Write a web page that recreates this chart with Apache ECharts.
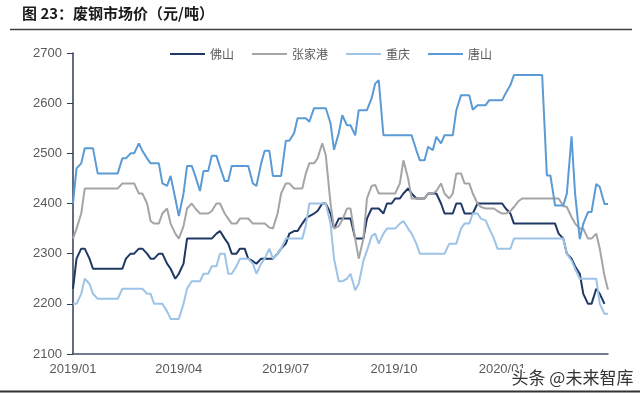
<!DOCTYPE html>
<html><head><meta charset="utf-8">
<script src="https://cdn.jsdelivr.net/npm/echarts@6/dist/echarts.min.js"></script>
<style>html,body{margin:0;padding:0;background:#fff}#c{width:640px;height:393px}</style>
</head><body><div id="c"></div>
<script>
// ---- data ----
const seriesNames = ['佛山', '张家港', '重庆', '唐山'];
const startDate = [2019, 1, 1];
const endDate = [2020, 3, 31];
const tickLabels = ['2019/01', '2019/04', '2019/07', '2019/10', '2020/01'];
const yTicks = [2100, 2200, 2300, 2400, 2500, 2600, 2700];

const foshan = [
 2230,2290,2310,2310,2290,2270,2270,2270,2270,2270,
 2270,2270,2270,2290,2300,2300,2310,2310,2300,2290,
 2290,2300,2300,2280,2270,2250,2260,2280,2330,2330,
 2330,2330,2330,2330,2330,2340,2345,2330,2320,2300,
 2300,2310,2310,2290,2285,2280,2290,2290,2290,2290,
 2300,2310,2320,2340,2345,2345,2360,2370,2375,2380,
 2385,2400,2400,2380,2350,2370,2370,2370,2370,2330,
 2330,2330,2370,2390,2390,2390,2380,2400,2400,2410,
 2410,2420,2430,2420,2410,2410,2410,2420,2420,2420,
 2400,2380,2380,2380,2400,2400,2380,2380,2380,2400,
 2400,2400,2400,2400,2400,2400,2390,2380,2360,2360,
 2360,2360,2360,2360,2360,2360,2360,2360,2360,2340,
 2330,2300,2290,2275,2260,2220,2200,2200,2230,2220,
 2200,null];
const zhangjiagang = [
 2330,2350,2380,2430,2430,2430,2430,2430,2430,2430,
 2430,2430,2440,2440,2440,2440,2420,2420,2400,2365,
 2360,2360,2380,2390,2360,2340,2330,2355,2390,2400,
 2390,2380,2380,2380,2385,2400,2400,2380,2370,2360,
 2360,2370,2370,2370,2360,2360,2360,2360,2352,2350,
 2380,2420,2440,2440,2430,2430,2430,2460,2480,2480,
 2490,2520,2496,2400,2350,2355,2367,2390,2390,2330,
 2290,2330,2410,2435,2437,2420,2420,2420,2420,2420,
 2440,2486,2450,2410,2410,2410,2410,2420,2420,2425,
 2440,2420,2410,2420,2460,2460,2440,2440,2420,2400,
 2393,2390,2390,2390,2385,2380,2380,2385,2393,2405,
 2410,2410,2410,2410,2410,2410,2410,2410,2410,2410,
 2395,2393,2373,2360,2350,2350,2330,2330,2340,2310,
 2256,2228];
const chongqing = [
 2200,2200,2220,2250,2240,2220,2210,2210,2210,2210,
 2210,2210,2230,2230,2230,2230,2230,2230,2220,2220,
 2200,2200,2200,2185,2170,2170,2170,2200,2230,2245,
 2245,2245,2260,2260,2275,2275,2300,2300,2260,2260,
 2275,2290,2290,2290,2280,2260,2280,2290,2310,2290,
 2300,2310,2330,2330,2330,2330,2330,2356,2400,2400,
 2400,2400,2400,2360,2290,2245,2245,2250,2260,2227,
 2240,2286,2306,2335,2340,2320,2340,2350,2350,2350,
 2360,2365,2350,2340,2320,2300,2300,2300,2300,2300,
 2300,2300,2320,2320,2320,2350,2360,2360,2380,2380,
 2370,2366,2350,2330,2310,2310,2310,2310,2330,2330,
 2330,2330,2330,2330,2330,2330,2330,2330,2330,2330,
 2330,2300,2286,2270,2250,2250,2250,2250,2250,2200,
 2180,2180];
const tangshan = [
 2400,2470,2480,2510,2510,2510,2460,2460,2460,2460,
 2460,2460,2490,2490,2500,2500,2520,2505,2490,2480,
 2480,2480,2440,2435,2455,2410,2375,2420,2475,2475,
 2455,2425,2465,2465,2495,2495,2473,2445,2445,2475,
 2475,2475,2475,2475,2440,2435,2480,2505,2505,2455,
 2455,2455,2525,2525,2540,2570,2570,2570,2563,2590,
 2590,2590,2590,2560,2507,2540,2576,2556,2556,2536,
 2586,2586,2586,2610,2639,2646,2536,2536,2536,2536,
 2536,2536,2536,2536,2506,2486,2486,2513,2506,2533,
 2520,2536,2536,2536,2586,2616,2616,2616,2587,2596,
 2596,2596,2606,2606,2606,2606,2620,2636,2656,2656,
 2656,2656,2656,2656,2656,2656,2456,2456,2396,2396,
 2396,2420,2534,2420,2329,2360,2383,2383,2439,2433,
 2399,2399];

const colors = ['#1f3864', '#a5a5a5', '#9dc3e6', '#5b9bd5'];

// ---- build dates (sampling points spread evenly over the period) ----
const t0 = new Date(startDate[0], startDate[1] - 1, startDate[2]).getTime();
const t1 = new Date(endDate[0], endDate[1] - 1, endDate[2]).getTime();
const DAY = 86400000;
const nPts = tangshan.length;
const totalDays = Math.round((t1 - t0) / DAY);
const dates = [];
for (let i = 0; i < nPts; i++) dates.push(t0 + Math.round(i * totalDays / (nPts - 1)) * DAY);
const tickValues = tickLabels.map(s => { const p = s.split('/'); return new Date(+p[0], +p[1] - 1, 1).getTime(); });

const allData = [foshan, zhangjiagang, chongqing, tangshan];
const series = seriesNames.map((name, k) => ({
  name: name,
  type: 'line',
  symbol: 'none',
  data: allData[k].map((v, i) => [dates[i], v]),
  lineStyle: { width: 2, color: colors[k] },
  itemStyle: { color: colors[k] },
  connectNulls: false,
  animation: false
}));

const chart = echarts.init(document.getElementById('c'), null, { renderer: 'canvas' });
chart.setOption({
  animation: false,
  backgroundColor: '#fff',
  grid: { left: 73, right: 32, top: 53, bottom: 39, containLabel: false },
  legend: {
    data: seriesNames,
    left: 170, top: 48, padding: 0,
    icon: 'rect', itemWidth: 35, itemHeight: 2, itemGap: 18,
    textStyle: { fontSize: 12, color: '#595959', fontFamily: 'Noto Sans CJK SC' }
  },
  xAxis: {
    type: 'value',
    min: t0, max: t1,
    splitLine: { show: false },
    axisLine: { lineStyle: { color: '#44546a', width: 1.5 } },
    axisTick: { show: false },
    axisLabel: {
      customValues: tickValues,
      margin: 9,
      fontSize: 13, color: '#595959', fontFamily: 'Liberation Sans',
      formatter: function (v) { const d = new Date(v); return d.getFullYear() + '/' + String(d.getMonth() + 1).padStart(2, '0'); }
    }
  },
  yAxis: {
    type: 'value',
    min: yTicks[0], max: yTicks[yTicks.length - 1], interval: 100,
    splitLine: { show: false },
    axisLine: { show: true, lineStyle: { color: '#2f3d55', width: 1.5 } },
    axisTick: { show: true, length: 6, lineStyle: { color: '#2f3d55', width: 1 } },
    axisLabel: { margin: 11, fontSize: 13, color: '#595959', fontFamily: 'Liberation Sans',
      formatter: function (v) { return String(v); } }
  },
  graphic: [
    { type: 'text', left: 22, top: 6, z: 10,
      style: { text: '图 23：废钢市场价（元/吨）', font: 'bold 15px "Noto Sans CJK SC"', fill: '#1a1a1a' } },
    { type: 'line', z: 10, shape: { x1: 10, y1: 29.5, x2: 632, y2: 29.5 }, style: { stroke: '#404040', lineWidth: 1.5 } },
    { type: 'line', z: 10, shape: { x1: 0, y1: 391.5, x2: 640, y2: 391.5 }, style: { stroke: '#333333', lineWidth: 2 } },
    { type: 'text', left: 510, top: 368, z: 20,
      style: { text: '头条 @未来智库', font: '17px "Noto Sans CJK SC"', fill: '#333333', stroke: '#ffffff', lineWidth: 3 } }
  ],
  series: series
});
</script>
</body></html>
